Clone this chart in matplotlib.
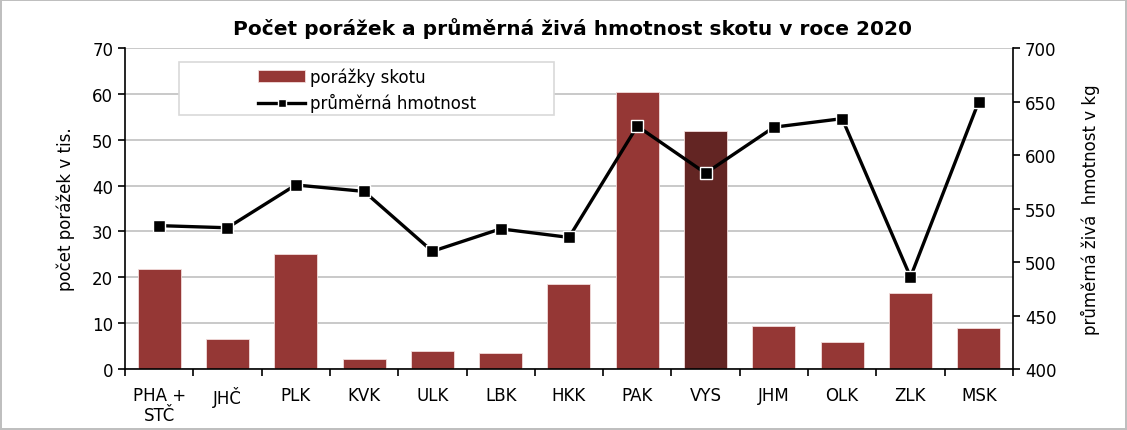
import numpy as np
import matplotlib.pyplot as plt
from matplotlib.patches import Rectangle
from matplotlib.ticker import MultipleLocator

kraje = ["PHA +\nSTČ", "JHČ", "PLK", "KVK", "ULK", "LBK", "HKK", "PAK", "VYS", "JHM", "OLK", "ZLK", "MSK"]
porazky = [21.8, 6.5, 25.0, 2.1, 3.9, 3.6, 18.5, 60.3, 51.9, 9.4, 5.8, 16.6, 8.9]
hmotnost = [534, 532, 572, 566, 510, 531, 523, 627, 583, 626, 634, 486, 650]

plt.rcParams['font.family'] = ['DejaVu Sans']

fig = plt.figure(figsize=(11.27, 4.31), dpi=100)
fig.patch.set_edgecolor("#bfbfbf")
fig.patch.set_linewidth(1.5)
ax = fig.add_axes([0.1109, 0.1415, 0.7879, 0.7448])

x = np.arange(len(kraje))
colors = ["#953735"] * len(kraje)
colors[8] = "#632523"
bars = ax.bar(x, porazky, width=0.63, color=colors, edgecolor="#f2dcdb", linewidth=0.6,
              label="porážky skotu", zorder=2)

ax.set_ylim(0, 70)
ax.set_xlim(-0.5, len(kraje) - 0.5)
ax.yaxis.set_major_locator(MultipleLocator(10))
ax.grid(axis="y", color="#c0c0c0", linewidth=1.2, zorder=0)
ax.set_axisbelow(True)
ax.spines["top"].set_visible(False)
ax.spines["right"].set_visible(False)
ax.spines["left"].set_linewidth(1.2)
ax.spines["bottom"].set_linewidth(1.2)
ax.set_xticks(x)
ax.set_xticklabels(kraje, fontsize=12)
ax.set_xticks(np.arange(-0.5, len(kraje), 1), minor=True)
ax.tick_params(axis="x", which="major", length=0, pad=12)
ax.tick_params(axis="x", which="minor", length=5, width=1.2)
ax.tick_params(axis="y", labelsize=12, length=5, width=1.2)
ax.set_ylabel("počet porážek v tis.", fontsize=12, labelpad=12)

ax2 = ax.twinx()
line, = ax2.plot(x, hmotnost, color="black", linewidth=2.4, marker="s", markersize=8,
                 markerfacecolor="black", markeredgecolor="white", markeredgewidth=1.0,
                 label="průměrná hmotnost", zorder=3)
ax2.set_ylim(400, 700)
ax2.yaxis.set_major_locator(MultipleLocator(50))
for s in ["top", "left", "bottom"]:
    ax2.spines[s].set_visible(False)
ax2.spines["right"].set_linewidth(1.2)
ax2.tick_params(axis="y", labelsize=12, length=5, width=1.2)
ax2.set_ylabel("průměrná živá  hmotnost v kg", fontsize=12, labelpad=18)

# legend frame like Excel (wider than its content)
ax2.add_patch(Rectangle((0.0608, 0.791), 0.4223, 0.165, transform=ax2.transAxes,
                        facecolor="white", edgecolor="#d9d9d9", linewidth=1.2, zorder=4))
leg = ax2.legend([bars, line], ["porážky skotu", "průměrná hmotnost"], loc="upper left",
                 bbox_to_anchor=(0.150, 0.94), fontsize=12, frameon=False,
                 borderpad=0, handlelength=2.8, handletextpad=0.3,
                 labelspacing=0.45, borderaxespad=0, markerscale=0.75)
leg.set_zorder(5)

fig.text(0.508, 0.918, "Počet porážek a průměrná živá hmotnost skotu v roce 2020",
         ha="center", fontsize=14.5, fontweight="bold")

fig.savefig("out.png", dpi=100, edgecolor=fig.get_edgecolor())
